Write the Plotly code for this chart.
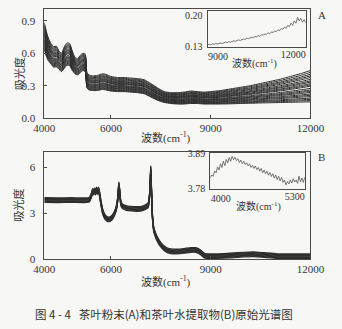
import plotly.graph_objects as go

W, H = 342, 329

# ---------------- Panel A: tea powder spectra (envelope of the sample set) -------------
wn_a = [4000, 4060, 4120, 4200, 4280, 4360, 4440, 4520, 4600, 4680, 4760, 4840, 4920,
        5000, 5080, 5160, 5230, 5280, 5340, 5450, 5600, 5750, 5850, 6000, 6200, 6400,
        6600, 6800, 7000, 7200, 7400, 7600, 7800, 8000, 8200, 8400, 8600, 8800, 9000,
        9300, 9600, 9900, 10200, 10500, 10800, 11100, 11400, 11700, 12000]
abs_a_upper = [0.88, 0.80, 0.74, 0.69, 0.66, 0.665, 0.62, 0.60, 0.66, 0.695, 0.69, 0.62, 0.56,
               0.55, 0.58, 0.60, 0.59, 0.42, 0.40, 0.39, 0.395, 0.41, 0.405, 0.385, 0.375, 0.375,
               0.37, 0.365, 0.355, 0.32, 0.28, 0.245, 0.235, 0.235, 0.24, 0.25, 0.245, 0.24, 0.245,
               0.255, 0.27, 0.285, 0.30, 0.32, 0.34, 0.36, 0.385, 0.41, 0.44]
abs_a_lower = [0.63, 0.57, 0.53, 0.50, 0.47, 0.475, 0.45, 0.43, 0.46, 0.49, 0.485, 0.44, 0.41,
               0.40, 0.42, 0.44, 0.43, 0.28, 0.26, 0.255, 0.255, 0.265, 0.26, 0.25, 0.245, 0.245,
               0.24, 0.235, 0.225, 0.195, 0.165, 0.145, 0.135, 0.13, 0.13, 0.135, 0.135, 0.13, 0.13,
               0.13, 0.132, 0.135, 0.137, 0.14, 0.142, 0.144, 0.146, 0.148, 0.15]
# relative level of each sample inside the envelope (0 = lowest, 1 = highest)
sample_pos_a = [0.0, 0.04, 0.08, 0.12, 0.17, 0.21, 0.25, 0.30, 0.34, 0.38, 0.43,
                0.50, 0.54, 0.58, 0.63, 0.67, 0.72, 0.78, 0.83, 0.88, 0.94, 1.0]

# Inset A: a single spectrum, 9000-12000 cm-1
wn_ia = list(range(9000, 12001, 50))
abs_ia = [0.134, 0.135, 0.134, 0.136, 0.135, 0.137, 0.136, 0.137, 0.138, 0.137, 0.139,
          0.140, 0.139, 0.141, 0.140, 0.142, 0.143, 0.142, 0.144, 0.145, 0.144, 0.146,
          0.147, 0.146, 0.149, 0.148, 0.150, 0.151, 0.150, 0.153, 0.152, 0.155, 0.153,
          0.157, 0.156, 0.158, 0.158, 0.161, 0.159, 0.163, 0.162, 0.165, 0.164, 0.168,
          0.166, 0.171, 0.169, 0.174, 0.171, 0.178, 0.175, 0.183, 0.178, 0.188, 0.183,
          0.196, 0.188, 0.194, 0.185, 0.191, 0.184]

# ---------------- Panel B: water extract spectra -------------
wn_b = [4000, 4400, 4800, 5200, 5350, 5420, 5450, 5480, 5510, 5540, 5570, 5600, 5630, 5660,
        5700, 5750, 5800, 5870, 5950, 6030, 6100, 6160, 6200, 6240, 6270, 6300, 6350, 6450,
        6600, 6800, 6950, 7050, 7120, 7170, 7200, 7220, 7250, 7290, 7340, 7400, 7500, 7600,
        7700, 7800, 8000, 8200, 8400, 8550, 8700, 8800, 8900, 9200, 9600, 10000, 10300,
        10600, 11000, 12000]
abs_b = [3.86, 3.85, 3.86, 3.85, 3.88, 4.20, 4.45, 4.35, 4.50, 4.35, 4.55, 4.38, 4.55, 4.25,
         3.70, 3.15, 2.85, 2.65, 2.60, 2.70, 2.95, 3.30, 3.80, 4.90, 4.30, 3.65, 3.45, 3.35,
         3.30, 3.28, 3.32, 3.42, 3.52, 4.30, 5.95, 4.60, 2.80, 1.95, 1.60, 1.30, 0.95, 0.72,
         0.58, 0.52, 0.50, 0.54, 0.60, 0.60, 0.45, 0.25, 0.20, 0.20, 0.24, 0.30, 0.32,
         0.27, 0.20, 0.20]
# baseline shift of each sample
offsets_b = [-0.15, -0.10, -0.05, 0.0, 0.05, 0.10, 0.15]

# Inset B: a single spectrum, 4000-5300 cm-1
wn_ib = list(range(4000, 5301, 20))
abs_ib = [3.812, 3.822, 3.818, 3.835, 3.829, 3.848, 3.838, 3.858, 3.846, 3.866, 3.852,
          3.872, 3.861, 3.878, 3.866, 3.882, 3.871, 3.879, 3.868, 3.874, 3.862, 3.870,
          3.858, 3.866, 3.855, 3.861, 3.851, 3.858, 3.846, 3.853, 3.843, 3.851, 3.839,
          3.846, 3.834, 3.843, 3.829, 3.838, 3.826, 3.834, 3.821, 3.830, 3.817, 3.826,
          3.812, 3.822, 3.807, 3.818, 3.803, 3.814, 3.798, 3.806, 3.790, 3.801, 3.793,
          3.806, 3.796, 3.810, 3.799, 3.806, 3.795, 3.818, 3.800, 3.812, 3.798, 3.815]

main_ticks = [4000, 6000, 9000, 12000]

SERIF = "'Liberation Serif', 'Noto Sans CJK SC', serif"
CJK = "'Noto Sans CJK SC', sans-serif"
INK = "#2f2f2f"
AXIS = "#4a4a4a"
BG = "#f7f7f5"


def px(x):
    return x / W


def py(y):
    return 1 - y / H


fig = go.Figure()

for w in sample_pos_a:
    ys = [lo + w * (up - lo) for lo, up in zip(abs_a_lower, abs_a_upper)]
    fig.add_trace(go.Scatter(x=wn_a, y=ys, mode="lines", xaxis="x", yaxis="y",
                             line=dict(color=INK, width=1.0, shape="spline", smoothing=0.5),
                             hoverinfo="skip", showlegend=False))

fig.add_trace(go.Scatter(x=wn_ia, y=abs_ia, mode="lines", xaxis="x3", yaxis="y3",
                         line=dict(color="#555555", width=0.8),
                         hoverinfo="skip", showlegend=False))
# carrier for the right-hand tick label axis of inset A (draws nothing)
fig.add_trace(go.Scatter(x=wn_ia, y=abs_ia, mode="lines", xaxis="x5", yaxis="y3",
                         line=dict(width=0), hoverinfo="skip", showlegend=False))

for off in offsets_b:
    fig.add_trace(go.Scatter(x=wn_b, y=[v + off for v in abs_b], mode="lines",
                             xaxis="x2", yaxis="y2",
                             line=dict(color=INK, width=1.3, shape="spline", smoothing=0.4),
                             hoverinfo="skip", showlegend=False))

fig.add_trace(go.Scatter(x=wn_ib, y=abs_ib, mode="lines", xaxis="x4", yaxis="y4",
                         line=dict(color="#555555", width=0.8),
                         hoverinfo="skip", showlegend=False))
# carrier for the right-hand tick label axis of inset B (draws nothing)
fig.add_trace(go.Scatter(x=wn_ib, y=abs_ib, mode="lines", xaxis="x6", yaxis="y4",
                         line=dict(width=0), hoverinfo="skip", showlegend=False))

frame = dict(showline=True, mirror=True, linecolor=AXIS, linewidth=1,
             showgrid=False, zeroline=False)
main_x = dict(frame, range=[4000, 12000], tickvals=main_ticks, tickformat="d",
              ticks="inside", ticklen=3, tickcolor=AXIS,
              tickfont=dict(family=SERIF, size=11, color="#333"))
main_y = dict(frame, ticks="inside", ticklen=3, tickcolor=AXIS, ticklabelstandoff=6,
              tickfont=dict(family=SERIF, size=11, color="#333"))
inset_font = dict(family=SERIF, size=10, color="#333")
inset_x = dict(frame, ticks="", tickfont=inset_font, tickformat="d")
inset_y = dict(frame, ticks="", tickfont=inset_font, ticklabelstandoff=2)

fig.update_layout(
    width=W, height=H, margin=dict(l=0, r=0, t=0, b=0),
    paper_bgcolor=BG, plot_bgcolor=BG, showlegend=False,
    xaxis=dict(main_x, domain=[px(36), px(323)], anchor="y"),
    yaxis=dict(main_y, domain=[py(117), py(4)], anchor="x", range=[0, 1.01],
               tickvals=[0, 0.3, 0.6, 0.9], tickformat=".1f"),
    xaxis2=dict(main_x, domain=[px(36), px(323)], anchor="y2"),
    yaxis2=dict(main_y, domain=[py(263), py(152)], anchor="x2", range=[0, 7],
                tickvals=[0, 3, 6]),
    xaxis3=dict(inset_x, domain=[px(212), px(318)], anchor="y3", range=[9000, 12000],
                tickvals=[9000], ticklabelposition="outside right"),
    xaxis5=dict(inset_x, overlaying="x3", anchor="y3", range=[9000, 12000],
                tickvals=[12000], ticklabelposition="outside left", showline=False),
    yaxis3=dict(inset_y, domain=[py(43), py(6)], anchor="x3", range=[0.13, 0.211],
                tickvals=[0.13, 0.20], tickformat=".2f"),
    xaxis4=dict(inset_x, domain=[px(215), px(317)], anchor="y4", range=[4000, 5300],
                tickvals=[4000], ticklabelposition="outside right"),
    xaxis6=dict(inset_x, overlaying="x4", anchor="y4", range=[4000, 5300],
                tickvals=[5300], ticklabelposition="outside left", showline=False),
    yaxis4=dict(inset_y, domain=[py(190), py(153.3)], anchor="x4", range=[3.778, 3.892],
                tickvals=[3.78, 3.89], tickformat=".2f"),
)

xtitle = "波数(cm<sup>-1</sup>)"
notes = [
    (xtitle, 167, 137, 11, SERIF, 0),
    (xtitle, 167, 286, 11, SERIF, 0),
    (xtitle, 263, 61, 10, SERIF, 0),
    (xtitle, 267, 208, 10, SERIF, 0),
    ("吸光度", 8, 71, 11, CJK, -90),
    ("吸光度", 8, 207, 11, CJK, -90),
    ("A", 335, 10, 11, SERIF, 0),
    ("B", 335, 157, 11, SERIF, 0),
    ("图 4 - 4   茶叶粉末(A)和茶叶水提取物(B)原始光谱图", 165, 320, 11.5, CJK, 0),
]
for text, x, y, size, fam, ang in notes:
    fig.add_annotation(text=text, x=px(x), y=py(y), xref="paper", yref="paper",
                       showarrow=False, textangle=ang, xanchor="center", yanchor="middle",
                       font=dict(family=fam, size=size, color="#333"))

fig.write_html("out.html", config={"displayModeBar": False})
